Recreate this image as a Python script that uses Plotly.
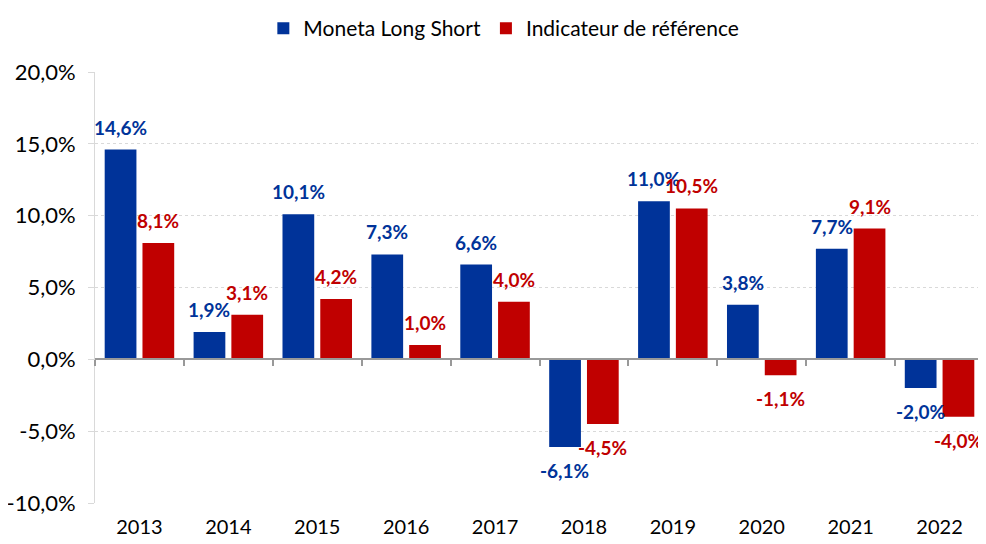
import plotly.graph_objects as go

years = ["2013", "2014", "2015", "2016", "2017", "2018", "2019", "2020", "2021", "2022"]
moneta = [14.6, 1.9, 10.1, 7.3, 6.6, -6.1, 11.0, 3.8, 7.7, -2.0]
indicateur = [8.1, 3.1, 4.2, 1.0, 4.0, -4.5, 10.5, -1.1, 9.1, -4.0]
series_names = ["Moneta Long Short", "Indicateur de référence"]
tick_vals = [-10, -5, 0, 5, 10, 15, 20]
tick_text = ["-10,0%", "-5,0%", "0,0%", "5,0%", "10,0%", "15,0%", "20,0%"]

BLUE = "#003399"
RED = "#C00000"
FONT = "Lato"


def fmt(v):
    return f"{v:.1f}".replace(".", ",") + "%"


fig = go.Figure()
fig.add_trace(go.Bar(x=years, y=moneta, name=series_names[0], marker=dict(color=BLUE, line=dict(width=0))))
fig.add_trace(go.Bar(x=years, y=indicateur, name=series_names[1], marker=dict(color=RED, line=dict(width=0))))
# invisible helper trace for the zero-line category axis
fig.add_trace(go.Scatter(x=years, y=[0] * len(years), xaxis="x2", mode="none",
                         showlegend=False, hoverinfo="skip"))

annotations = []
for vals, color, shift in ((moneta, BLUE, -19), (indicateur, RED, 19)):
    for i, v in enumerate(vals):
        annotations.append(dict(
            x=i, y=v, xref="x", yref="y", text=fmt(v), showarrow=False,
            xshift=shift, yshift=9 if v >= 0 else -10,
            yanchor="bottom" if v >= 0 else "top",
            font=dict(family=FONT, size=19, color=color, weight="bold"),
        ))

xr = [-0.5, len(years) - 0.5]
# page body has an 8px margin, so the figure is sized 8px smaller
fig.update_layout(
    width=978, height=536,
    margin=dict(l=87, r=2, t=64, b=41, autoexpand=False),
    paper_bgcolor="white", plot_bgcolor="white",
    barmode="group", bargap=0.15, bargroupgap=0.16,
    font=dict(family=FONT, size=20, color="#000000"),
    legend=dict(orientation="h", xref="container", x=0.507, xanchor="center",
                y=1.0, yanchor="top", yref="container",
                font=dict(size=21), traceorder="normal"),
    annotations=annotations,
    xaxis=dict(type="category", categoryorder="array", categoryarray=years, range=xr,
               showline=False, ticks="", showgrid=False, zeroline=False, automargin=False,
               tickfont=dict(size=20), ticklabelstandoff=10),
    xaxis2=dict(type="category", categoryorder="array", categoryarray=years, range=xr,
                overlaying="x", anchor="free", position=1/3, automargin=False,
                side="bottom", showline=True, linecolor="#999999", linewidth=1.5,
                ticks="outside", tickson="boundaries", ticklen=6, tickcolor="#999999",
                tickwidth=1.5, showticklabels=False, showgrid=False, zeroline=False),
    yaxis=dict(range=[-10, 20], tickvals=tick_vals, ticktext=tick_text, automargin=False,
               showgrid=True, gridcolor="#D9D9D9", griddash="dot", gridwidth=1,
               zeroline=False, showline=True, linecolor="#D9D9D9", linewidth=1,
               ticks="outside", ticklen=6, tickcolor="#D9D9D9", ticklabelstandoff=8,
               tickfont=dict(size=22)),
)

fig.write_html("out.html")
